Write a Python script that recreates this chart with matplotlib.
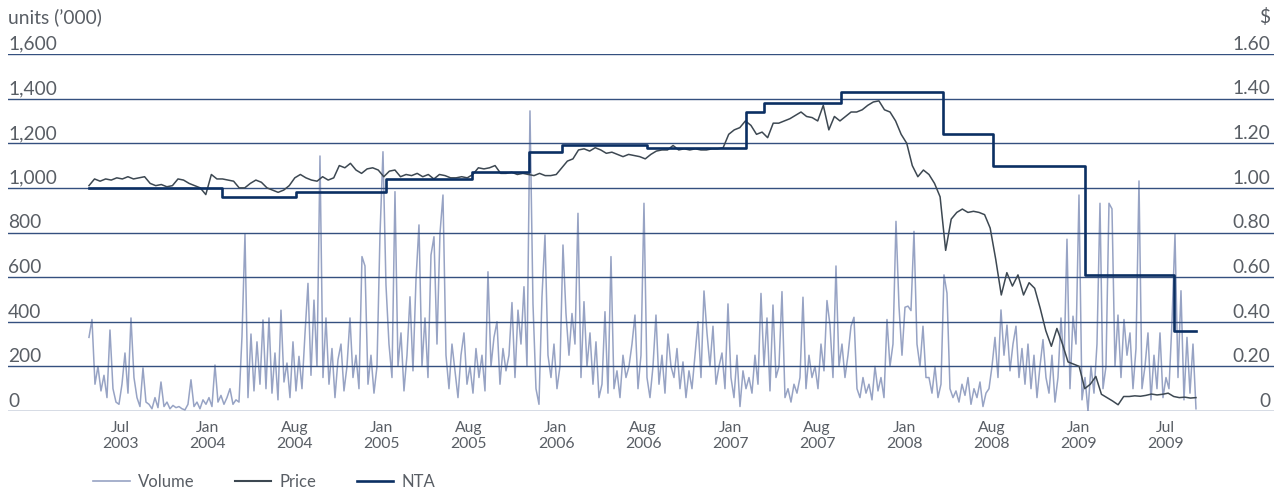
import matplotlib.pyplot as plt
import numpy as np
from matplotlib.lines import Line2D

plt.rcParams['font.family'] = ['Lato', 'DejaVu Sans']

# x axis runs in half-year steps, one label every step
tick_labels = ["Jul\n2003", "Jan\n2004", "Aug\n2004", "Jan\n2005", "Aug\n2005",
               "Jan\n2006", "Aug\n2006", "Jan\n2007", "Aug\n2007", "Jan\n2008",
               "Aug\n2008", "Jan\n2009", "Jul\n2009"]
first_day = -0.364
last_day = 12.35

# daily traded volume, units ('000)
volume = [330, 410, 120, 200, 90, 160, 60, 363, 100, 40,
          30, 120, 260, 80, 417, 150, 60, 20, 193, 40,
          30, 10, 60, 15, 130, 20, 40, 10, 25, 15,
          20, 10, 5, 30, 140, 20, 40, 10, 50, 30,
          60, 20, 206, 40, 70, 30, 60, 100, 30, 50,
          40, 333, 793, 60, 345, 90, 310, 120, 408, 100,
          417, 80, 260, 50, 452, 130, 215, 60, 310, 90,
          245, 100, 345, 572, 160, 497, 200, 1143, 150, 417,
          120, 280, 60, 230, 300, 90, 200, 417, 150, 250,
          100, 692, 650, 120, 250, 80, 200, 789, 1162, 565,
          300, 150, 983, 200, 350, 90, 250, 512, 180, 587,
          834, 200, 417, 150, 699, 781, 300, 796, 968, 250,
          100, 300, 180, 60, 250, 350, 120, 200, 80, 280,
          150, 250, 90, 624, 200, 330, 400, 120, 280, 180,
          250, 486, 150, 452, 300, 557, 200, 1345, 480, 100,
          30, 512, 789, 250, 150, 300, 100, 200, 744, 437,
          250, 437, 300, 886, 150, 490, 200, 350, 120, 310,
          60, 120, 445, 80, 692, 100, 180, 60, 250, 150,
          200, 300, 430, 100, 250, 931, 150, 60, 200, 430,
          120, 250, 80, 345, 200, 150, 280, 100, 220, 60,
          180, 100, 250, 400, 150, 538, 350, 200, 380, 120,
          200, 260, 100, 480, 150, 60, 250, 20, 180, 100,
          150, 80, 250, 120, 527, 200, 417, 90, 475, 150,
          200, 535, 60, 100, 40, 120, 80, 150, 510, 100,
          250, 150, 200, 100, 300, 180, 495, 385, 150, 650,
          200, 300, 150, 250, 380, 420, 100, 60, 150, 80,
          120, 50, 200, 90, 150, 60, 410, 200, 300, 850,
          470, 250, 465, 470, 450, 805, 300, 200, 380, 150,
          150, 80, 200, 60, 120, 610, 528, 100, 60, 90,
          40, 120, 70, 150, 30, 100, 60, 130, 20, 80,
          100, 200, 330, 150, 453, 250, 385, 180, 300, 380,
          150, 280, 120, 300, 100, 250, 60, 200, 320, 150,
          80, 250, 40, 150, 417, 200, 770, 100, 425, 300,
          968, 50, 150, 0, 200, 80, 300, 931, 100, 200,
          931, 906, 200, 430, 150, 410, 250, 350, 100, 280,
          1031, 100, 200, 350, 50, 250, 100, 350, 60, 150,
          100, 400, 793, 150, 539, 50, 330, 80, 300, 10]

# closing unit price, $
price = [1.01, 1.04, 1.03, 1.04, 1.035, 1.045, 1.04, 1.05, 1.04, 1.045,
         1.05, 1.02, 1.01, 1.015, 1.005, 1.01, 1.04, 1.035, 1.02, 1.01,
         1.0, 0.97, 1.06, 1.04, 1.04, 1.035, 1.03, 1.0, 1.0, 1.02,
         1.035, 1.025, 1.0, 0.99, 0.98, 0.99, 1.01, 1.045, 1.06, 1.045,
         1.035, 1.03, 1.05, 1.035, 1.045, 1.10, 1.09, 1.11, 1.08, 1.065,
         1.085, 1.09, 1.08, 1.05, 1.075, 1.08, 1.05, 1.06, 1.055, 1.065,
         1.05, 1.06, 1.04, 1.06, 1.055, 1.045, 1.045, 1.05, 1.045, 1.06,
         1.09, 1.085, 1.09, 1.10, 1.065, 1.065, 1.07, 1.06, 1.065, 1.06,
         1.055, 1.065, 1.055, 1.055, 1.06, 1.09, 1.12, 1.13, 1.17, 1.175,
         1.165, 1.18, 1.17, 1.155, 1.16, 1.15, 1.14, 1.15, 1.145, 1.14,
         1.13, 1.15, 1.165, 1.17, 1.17, 1.19, 1.17, 1.175, 1.17, 1.175,
         1.17, 1.17, 1.175, 1.175, 1.18, 1.24, 1.26, 1.27, 1.30, 1.28,
         1.24, 1.25, 1.225, 1.29, 1.29, 1.30, 1.31, 1.325, 1.34, 1.32,
         1.315, 1.30, 1.37, 1.26, 1.32, 1.30, 1.32, 1.34, 1.34, 1.35,
         1.37, 1.385, 1.39, 1.35, 1.34, 1.30, 1.24, 1.20, 1.10, 1.05,
         1.08, 1.06, 1.02, 0.96, 0.72, 0.86, 0.89, 0.905, 0.89, 0.895,
         0.89, 0.88, 0.82, 0.68, 0.52, 0.62, 0.56, 0.61, 0.52, 0.575,
         0.55, 0.46, 0.36, 0.29, 0.37, 0.30, 0.22, 0.21, 0.20, 0.10,
         0.12, 0.155, 0.075, 0.06, 0.045, 0.028, 0.065, 0.065, 0.068, 0.066,
         0.07, 0.076, 0.072, 0.075, 0.08, 0.065, 0.06, 0.062, 0.058, 0.06]

# net tangible assets per unit, changes at each reporting date
nta_dates = [first_day, 1.16, 2.01, 3.05, 4.03, 4.69, 5.07, 6.04, 7.18,
             7.39, 8.27, 9.44, 10.02, 11.08, 12.10]
nta = [1.00, 0.96, 0.98, 1.04, 1.07, 1.16, 1.19, 1.18, 1.34,
       1.38, 1.43, 1.24, 1.10, 0.61, 0.36]

vol_color = '#97a3c4'
price_color = '#3d4852'
nta_color = '#0b2f63'
grid_color = '#34507f'
text_color = '#595e65'

fig = plt.figure(figsize=(12.88, 4.95), dpi=100)
ax = fig.add_axes([8 / 1288, 84 / 495, 1266 / 1288, 357 / 495])
ax2 = ax.twinx()

x_vol = np.linspace(first_day, last_day, len(volume))
x_price = np.linspace(first_day, last_day, len(price))

ax.plot(x_vol, volume, color=vol_color, lw=1.1, zorder=1)
for v in range(0, 1601, 200):
    ax.axhline(v, color=grid_color, lw=1.0, zorder=2)

ax2.plot(x_price, price, color=price_color, lw=1.1, zorder=3)
ax2.step(nta_dates + [last_day], nta + [nta[-1]], where='post',
         color=nta_color, lw=1.9, zorder=4)

ax.set_xlim(-1.294, 13.246)
ax.set_ylim(0, 1600)
ax2.set_ylim(0, 1.6)

for a in (ax, ax2):
    for s in a.spines.values():
        s.set_visible(False)
    a.set_yticks([])

ax.set_xticks(range(len(tick_labels)))
ax.set_xticklabels(tick_labels, fontsize=11.3, color=text_color, linespacing=1.2)
ax.tick_params(axis='x', length=0, pad=7)

# axis values sit on top of their gridlines
for v in range(0, 1601, 200):
    ax.annotate(f"{v:,}", xy=(0, v), xycoords=ax.get_yaxis_transform(),
                xytext=(0, 3), textcoords='offset points', ha='left',
                va='baseline', fontsize=13.8, color=text_color)
    ax.annotate("0" if v == 0 else f"{v / 1000:.2f}", xy=(0.997, v),
                xycoords=ax.get_yaxis_transform(), xytext=(0, 3),
                textcoords='offset points', ha='right', va='baseline',
                fontsize=13.8, color=text_color)

fig.text(8 / 1288, 1 - 17 / 495, "units (\u2019000)", ha='left', va='center',
         fontsize=13.8, color=text_color)
fig.text(1270 / 1288, 1 - 17 / 495, "$", ha='right', va='center',
         fontsize=13.8, color=text_color)

handles = [Line2D([], [], color=vol_color, lw=1.2),
           Line2D([], [], color=price_color, lw=1.5),
           Line2D([], [], color=nta_color, lw=1.9)]
fig.legend(handles, ["Volume", "Price", "NTA"], ncol=3, frameon=False,
           loc='center left', bbox_to_anchor=(93 / 1288, 1 - 482 / 495),
           borderpad=0, borderaxespad=0, handlelength=2.2, handletextpad=0.5,
           columnspacing=2.4, prop={'size': 12}, labelcolor=text_color)

fig.savefig("out.png", dpi=100)
